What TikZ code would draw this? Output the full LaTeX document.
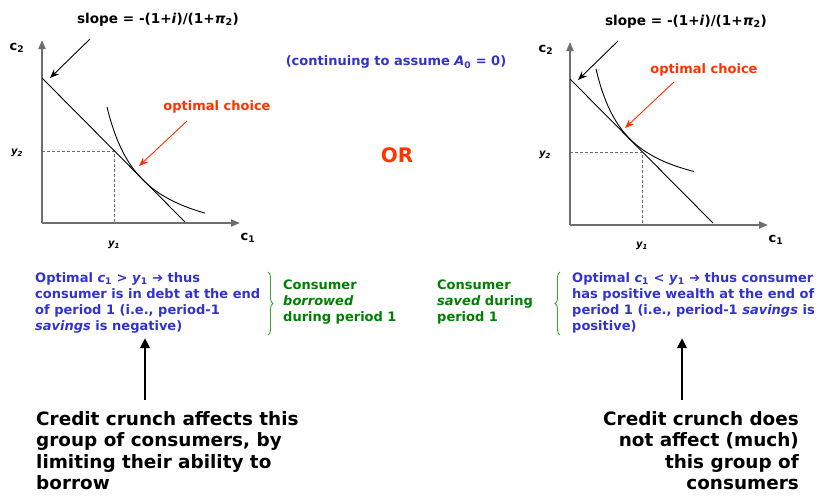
\documentclass[tikz,border=0pt]{standalone}
\usepackage{fontspec}
\setmainfont{DejaVu Sans}
\usetikzlibrary{arrows.meta,decorations.pathreplacing}
\definecolor{myblue}{RGB}{51,51,204}
\definecolor{myred}{RGB}{255,51,0}
\definecolor{mygreen}{RGB}{0,128,0}
\definecolor{bracegreen}{RGB}{60,160,60}
\definecolor{axisgray}{RGB}{110,110,110}
\begin{document}
\begin{tikzpicture}[x=1pt,y=-1pt,
  axis/.style={draw=axisgray,line width=2pt,-{Triangle[length=9pt,width=7pt]}},
  budget/.style={draw=black,line width=0.9pt},
  indiff/.style={draw=black,line width=0.9pt},
  guide/.style={draw=axisgray,dashed,line width=0.9pt,dash pattern=on 3pt off 2pt},
  slopearrow/.style={draw=black,line width=0.9pt,-{Stealth[length=9pt,width=7pt]}},
  redarrow/.style={draw=myred,line width=0.9pt,-{Stealth[length=9pt,width=7pt]}},
  uparrow/.style={draw=black,line width=2.5pt,-{Triangle[length=10pt,width=9pt]}},
  small/.style={font=\fontsize{13}{16}\selectfont\bfseries,inner sep=0pt},
  slopefont/.style={font=\fontsize{13.6}{16}\selectfont\bfseries,inner sep=0pt},
  tiny/.style={font=\fontsize{10}{12}\selectfont\bfseries\itshape,inner sep=0pt},
  bluetext/.style={small,text=myblue,align=left,anchor=north west},
  greentext/.style={small,text=mygreen,align=left,anchor=north west},
  bigtext/.style={font=\fontsize{18.4}{21.6}\selectfont\bfseries,inner sep=0pt,anchor=north west},
  gbrace/.style={draw=bracegreen,line width=0.9pt,decorate,decoration={brace,amplitude=5pt}}]
\useasboundingbox[fill=white] (0,0) rectangle (822,498);

% ---------- left graph ----------
\coordinate (O1) at (42,223);
\coordinate (Y1) at (42,40);
\coordinate (X1) at (240,223);
\coordinate (B1a) at (42,78);
\coordinate (B1b) at (185,222);
\coordinate (E1) at (114,151);
\coordinate (E1y) at (42,151);
\coordinate (E1x) at (114,223);
\draw[axis] (O1) -- (Y1);
\draw[axis] (O1) -- (X1);
\draw[guide] (E1y) -- (E1) -- (E1x);
\draw[budget] (B1a) -- (B1b);
\draw[indiff] plot[domain=65:163,samples=80] ({\x+42},{223-(5041/(\x-30)-28)});
\node[small] (c2a) at (17,48) {c\textsubscript{2}};
\node[small] (c1a) at (248,238) {c\textsubscript{1}};
\node[tiny] (y2a) at (17,153) {y\textsubscript{2}};
\node[tiny] (y1a) at (114,245) {y\textsubscript{1}};
\node[slopefont] (slopea) at (158,20) {slope = -(1+\textit{i})/(1+\textit{π}\textsubscript{2})};
\coordinate (sa1) at (90,39);
\coordinate (sa2) at (50,78);
\draw[slopearrow] (sa1) -- (sa2);
\node[small,text=myred] (opta) at (217,107) {optimal choice};
\coordinate (ra1) at (187,121);
\coordinate (ra2) at (139,166);
\draw[redarrow] (ra1) -- (ra2);

% ---------- right graph ----------
\coordinate (O2) at (570,225);
\coordinate (Y2) at (570,42);
\coordinate (X2) at (768,225);
\coordinate (B2a) at (570,79);
\coordinate (B2b) at (713,223);
\coordinate (E2) at (642,152);
\coordinate (E2y) at (570,152);
\coordinate (E2x) at (642,225);
\draw[axis] (O2) -- (Y2);
\draw[axis] (O2) -- (X2);
\draw[guide] (E2y) -- (E2) -- (E2x);
\draw[budget] (B2a) -- (B2b);
\draw[indiff] plot[domain=26:124,samples=80] ({\x+570},{225-(4369/(\x+6.1)+19.9)});
\node[small] (c2b) at (546,50) {c\textsubscript{2}};
\node[small] (c1b) at (776,240) {c\textsubscript{1}};
\node[tiny] (y2b) at (545,155) {y\textsubscript{2}};
\node[tiny] (y1b) at (642,246) {y\textsubscript{1}};
\node[slopefont] (slopeb) at (686,22) {slope = -(1+\textit{i})/(1+\textit{π}\textsubscript{2})};
\coordinate (sb1) at (618,41);
\coordinate (sb2) at (578,80);
\draw[slopearrow] (sb1) -- (sb2);
\node[small,text=myred] (optb) at (704,70) {optimal choice};
\coordinate (rb1) at (674,82);
\coordinate (rb2) at (625,128);
\draw[redarrow] (rb1) -- (rb2);

% ---------- middle ----------
\node[small,text=myblue] (assume) at (396,62) {(continuing to assume \textit{A}\textsubscript{0} = 0)};
\node[font=\fontsize{20}{24}\selectfont\bfseries,text=myred,inner sep=0pt] (or) at (397,155) {OR};

% ---------- text blocks ----------
\node[bluetext] (bl) at (35,272) {Optimal \textit{c}\textsubscript{1} > \textit{y}\textsubscript{1} ➔ thus\\consumer is in debt at the end\\of period 1 (i.e., period-1\\\textit{savings} is negative)};
\node[greentext] (gl) at (283,280) {Consumer\\\textit{borrowed}\\during period 1};
\coordinate (bra1) at (268,272);
\coordinate (bra2) at (268,335);
\draw[gbrace] (bra1) -- (bra2);

\node[greentext] (gr) at (437,280) {Consumer\\\textit{saved} during\\period 1};
\coordinate (brb1) at (560,335);
\coordinate (brb2) at (560,272);
\draw[gbrace] (brb1) -- (brb2);
\node[bluetext] (br) at (572,272) {Optimal \textit{c}\textsubscript{1} < \textit{y}\textsubscript{1} ➔ thus consumer\\has positive wealth at the end of\\period 1 (i.e., period-1 \textit{savings} is\\positive)};

% ---------- bottom ----------
\node[bigtext,align=left] (cl) at (36,411) {Credit crunch affects this\\group of consumers, by\\limiting their ability to\\borrow};
\node[bigtext,align=right,anchor=north east] (cr) at (799,411) {Credit crunch does\\not affect (much)\\this group of\\consumers};
\coordinate (ua1) at (145,400);
\coordinate (ua2) at (145,338);
\draw[uparrow] (ua1) -- (ua2);
\coordinate (ub1) at (682,400);
\coordinate (ub2) at (682,338);
\draw[uparrow] (ub1) -- (ub2);
\end{tikzpicture}
\end{document}
